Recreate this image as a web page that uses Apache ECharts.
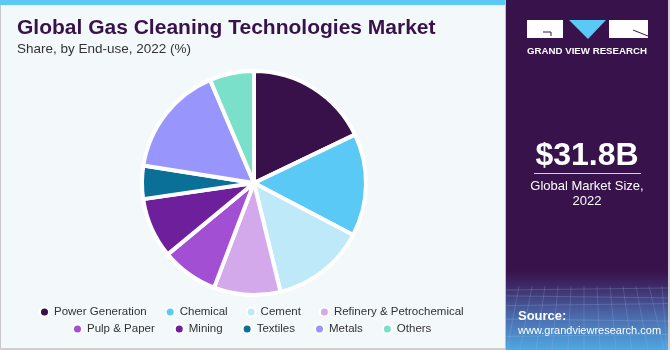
<!DOCTYPE html>
<html><head><meta charset="utf-8">
<script src="https://cdn.jsdelivr.net/npm/echarts@6/dist/echarts.min.js"></script>
<style>html,body{margin:0;padding:0;background:#f3f8fb;}#c{width:670px;height:350px;}</style>
</head><body><div id="c"></div>
<script>
const categories = ["Power Generation","Chemical","Cement","Refinery & Petrochemical","Pulp & Paper","Mining","Textiles","Metals","Others"];
const shares = [17.9,14.8,13.5,9.6,8.2,8.7,4.8,16.1,6.4];
const colors = ["#38114a","#5bc9f6","#bde9f9","#d3a9ec","#a24fd3","#6e1f9b","#0b7098","#9896fd","#7ae0ca"];
const legendRow1 = categories.slice(0,4);
const legendRow2 = categories.slice(4);

const chart = echarts.init(document.getElementById('c'), null, {renderer:'canvas'});
const F = '"Liberation Sans", Arial, sans-serif';

const gridLines = [];
for (let i=0;i<6;i++){
  const y = 290 + i*i*1.9 + i*4;
  gridLines.push({type:'line', shape:{x1:506,y1:y,x2:668,y2:y+ (i%2?2:-2)}, style:{stroke:'rgba(170,200,240,0.22)',lineWidth:1}, z:2});
}
for (let i=1;i<13;i++){
  const x = 506 + i*13;
  gridLines.push({type:'line', shape:{x1:x,y1:286,x2:Math.min(667,Math.max(507,x+(i-6)*3)),y2:350}, style:{stroke:'rgba(170,200,240,0.2)',lineWidth:1}, z:2});
}

chart.setOption({
  backgroundColor:'#f3f8fb',
  animation:false,
  color: colors,
  graphic:[
    {type:'rect', shape:{x:0,y:0,width:506,height:5}, style:{fill:'#5bc9f6'}, z:1},
    {type:'rect', shape:{x:0,y:5,width:1,height:345}, style:{fill:'#c8c8c8'}, z:1},
    {type:'rect', shape:{x:0,y:348,width:506,height:2}, style:{fill:'#cfcfcf'}, z:1},
    {type:'rect', shape:{x:505,y:0,width:1,height:350}, style:{fill:'#c0c0c0'}, z:1},
    {type:'rect', shape:{x:506,y:0,width:164,height:350}, style:{fill:'#38124a'}, z:1},
    {type:'rect', shape:{x:506,y:270,width:164,height:80}, style:{fill:{type:'linear',x:0,y:0,x2:0,y2:1,colorStops:[{offset:0,color:'#38124a'},{offset:0.2,color:'#3d2a66'},{offset:0.55,color:'#4a66a8'},{offset:1,color:'#4fa8e2'}]}}, z:1},
    ...gridLines,
    {type:'rect', shape:{x:668,y:0,width:2,height:350}, style:{fill:'#d0d0d0'}, z:3},
    {type:'rect', shape:{x:527,y:20,width:36,height:18}, style:{fill:'#ffffff'}, z:3},
    {type:'polyline', shape:{points:[[543,32],[551,32],[551,36]]}, style:{stroke:'#38124a',lineWidth:1,fill:null}, z:4},
    {type:'polygon', shape:{points:[[569,20],[606,20],[588,39]]}, style:{fill:'#5bc9f6'}, z:3},
    {type:'rect', shape:{x:609,y:20,width:39,height:18}, style:{fill:'#ffffff'}, z:3},
    {type:'line', shape:{x1:633,y1:30,x2:648,y2:36}, style:{stroke:'#38124a',lineWidth:1}, z:4},
    {type:'text', x:587, y:51, style:{text:'GRAND VIEW RESEARCH', fill:'#ffffff', font:'bold 9.7px '+F, align:'center', verticalAlign:'middle'}, z:3},
    {type:'text', x:587, y:156, style:{text:'$31.8B', fill:'#ffffff', font:'bold 32px '+F, align:'center', verticalAlign:'middle'}, z:3},
    {type:'rect', shape:{x:534,y:173,width:107,height:1}, style:{fill:'#d8cce0'}, z:3},
    {type:'text', x:587, y:186, style:{text:'Global Market Size,', fill:'#ffffff', font:'13px '+F, align:'center', verticalAlign:'middle'}, z:3},
    {type:'text', x:587, y:201, style:{text:'2022', fill:'#ffffff', font:'13px '+F, align:'center', verticalAlign:'middle'}, z:3},
    {type:'text', x:518, y:316, style:{text:'Source:', fill:'#ffffff', font:'bold 13px '+F, align:'left', verticalAlign:'middle'}, z:3},
    {type:'text', x:518, y:331, style:{text:'www.grandviewresearch.com', fill:'#ffffff', font:'11px '+F, align:'left', verticalAlign:'middle'}, z:3},
    {type:'text', x:17, y:28, style:{text:'Global Gas Cleaning Technologies Market', fill:'#38124a', font:'bold 21px '+F, align:'left', verticalAlign:'middle'}, z:3},
    {type:'text', x:17, y:49, style:{text:'Share, by End-use, 2022 (%)', fill:'#333333', font:'13.5px '+F, align:'left', verticalAlign:'middle'}, z:3}
  ],
  legend:[
    {data:legendRow1, left:39, top:306, orient:'horizontal', icon:'circle', itemWidth:9, itemHeight:9, itemGap:18, padding:0,
     textStyle:{fontFamily:F, fontSize:11.5, color:'#333333'}, selectedMode:false},
    {data:legendRow2, left:72, top:323, orient:'horizontal', icon:'circle', itemWidth:9, itemHeight:9, itemGap:19, padding:0,
     textStyle:{fontFamily:F, fontSize:11.5, color:'#333333'}, selectedMode:false}
  ],
  series:[{
    type:'pie',
    center:[254,183],
    radius:[0,112],
    startAngle:90,
    clockwise:true,
    label:{show:false},
    labelLine:{show:false},
    emphasis:{disabled:true},
    itemStyle:{borderColor:'#ffffff', borderWidth:4},
    data: categories.map((c,i)=>({name:c, value:shares[i]}))
  }]
});
</script>
</body></html>
